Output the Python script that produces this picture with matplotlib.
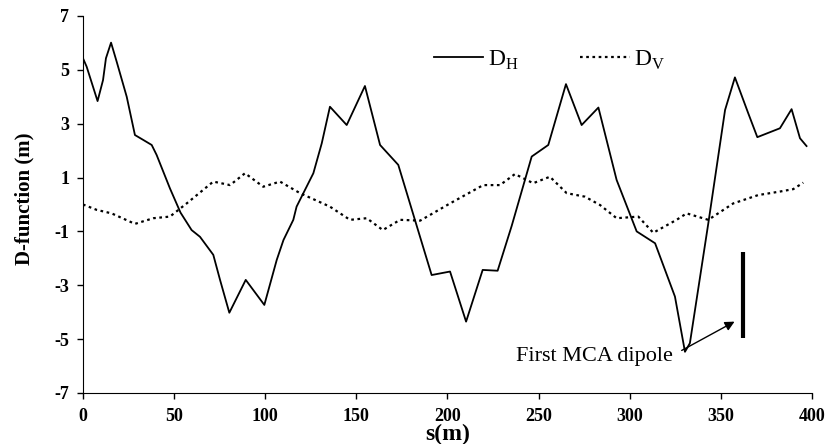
import matplotlib
matplotlib.use('Agg')
import matplotlib.pyplot as plt

# D-function along the ring
s_h = [0, 2, 8, 11, 12.6, 15.4, 18.5, 24, 28.5, 33, 37.7, 40.4, 47.7, 53.5,
       59.6, 64.2, 71.5, 75.2, 80.3, 89.3, 99.5, 106.3, 110, 115.4, 117.2,
       126.4, 131, 135.5, 144.7, 154.7, 163, 173, 182.7, 191.3, 201.4, 210.2,
       219.3, 227.5, 235.2, 246.2, 255.3, 265, 273.6, 282.8, 292.8, 303.8,
       313.9, 324.8, 330.3, 333, 343.1, 352.3, 357.7, 365, 370, 382.4, 388.8,
       393.4, 397]
d_h = [5.43, 5.12, 3.84, 4.62, 5.43, 6.01, 5.3, 4.0, 2.58, 2.4, 2.21, 1.84,
       0.6, -0.3, -0.95, -1.2, -1.87, -2.8, -4.02, -2.8, -3.73, -2.06, -1.32,
       -0.57, -0.08, 1.16, 2.27, 3.63, 2.95, 4.4, 2.21, 1.47, -0.7, -2.62,
       -2.49, -4.35, -2.43, -2.46, -0.8, 1.78, 2.21, 4.47, 2.95, 3.6, 0.91,
       -1.0, -1.44, -3.42, -5.47, -5.15, -0.7, 3.51, 4.72, 3.39, 2.5, 2.83,
       3.54, 2.46, 2.17]

s_v = [0, 7.5, 15.7, 28.5, 38.6, 47.7, 56.9, 71.5, 80.7, 88.9, 98.9, 108.1,
       119.1, 135.5, 146.5, 155.7, 164.5, 174, 185, 201.4, 219.6, 228.8, 237,
       247, 256.2, 265.4, 275.4, 283.7, 292.8, 304.7, 312.9, 325.7, 331.2,
       343.1, 356.8, 370.5, 382.4, 389.7, 395.2]
d_v = [0.0, -0.2, -0.33, -0.72, -0.51, -0.45, 0.04, 0.85, 0.72, 1.16, 0.66,
       0.85, 0.42, -0.08, -0.57, -0.51, -0.95, -0.57, -0.6, 0.04, 0.72, 0.72,
       1.13, 0.79, 1.03, 0.42, 0.29, -0.02, -0.51, -0.45, -1.05, -0.57, -0.33,
       -0.57, 0.04, 0.35, 0.48, 0.57, 0.81]

x_ticks = [0, 50, 100, 150, 200, 250, 300, 350, 400]
y_ticks = [-7, -5, -3, -1, 1, 3, 5, 7]

dipole_s = 362.3
dipole_range = (-4.97, -1.75)

plt.rcParams['font.family'] = ['Liberation Serif', 'DejaVu Serif']
plt.rcParams['mathtext.fontset'] = 'custom'
plt.rcParams['mathtext.rm'] = 'Liberation Serif'

fig = plt.figure(figsize=(8.29, 4.44), dpi=100)
ax = fig.add_axes([0.1001, 0.1149, 0.8794, 0.8491])

ax.plot(s_h, d_h, color='black', lw=1.3, label=r'$\mathrm{D}_{\mathrm{H}}$')
ax.plot(s_v, d_v, color='black', lw=1.6, ls=(0, (1.2, 1.6)),
        label=r'$\mathrm{D}_{\mathrm{V}}$')

# marker for the first MCA dipole
ax.vlines(dipole_s, dipole_range[0], dipole_range[1], color='black', lw=3)
ax.annotate('', xy=(357.5, -4.35), xytext=(328.5, -5.42),
            arrowprops=dict(arrowstyle='-|>', color='black', lw=1,
                            mutation_scale=14, shrinkA=0, shrinkB=0))
ax.text(323.5, -5.66, 'First MCA dipole', ha='right', va='center',
        fontsize=16)

ax.set_xlim(0, 400)
ax.set_ylim(-7, 7)
ax.set_xticks(x_ticks)
ax.set_yticks(y_ticks)
ax.set_xticklabels([str(t) for t in x_ticks], fontweight='bold', fontsize=13)
ax.set_yticklabels([str(t) for t in y_ticks], fontweight='bold', fontsize=13)
ax.tick_params(direction='out', length=4, width=1)
ax.tick_params(axis='x', pad=7)
ax.tick_params(axis='y', pad=6)
for side in ('top', 'right'):
    ax.spines[side].set_visible(False)
ax.set_xlabel('s(m)', fontweight='bold', fontsize=17, va='center')
ax.xaxis.set_label_coords(0.5, -0.111)
ax.set_ylabel('D-function (m)', fontweight='bold', fontsize=15, va='center')
ax.yaxis.set_label_coords(-0.08, 0.515)

ax.legend(loc='center left', bbox_to_anchor=(0.523, 0.865),
          bbox_transform=fig.transFigure, ncol=2, frameon=False,
          fontsize=17, handlelength=2.1, handletextpad=0.2,
          columnspacing=2.6, borderpad=0, borderaxespad=0)

fig.savefig('out.png', dpi=100)
